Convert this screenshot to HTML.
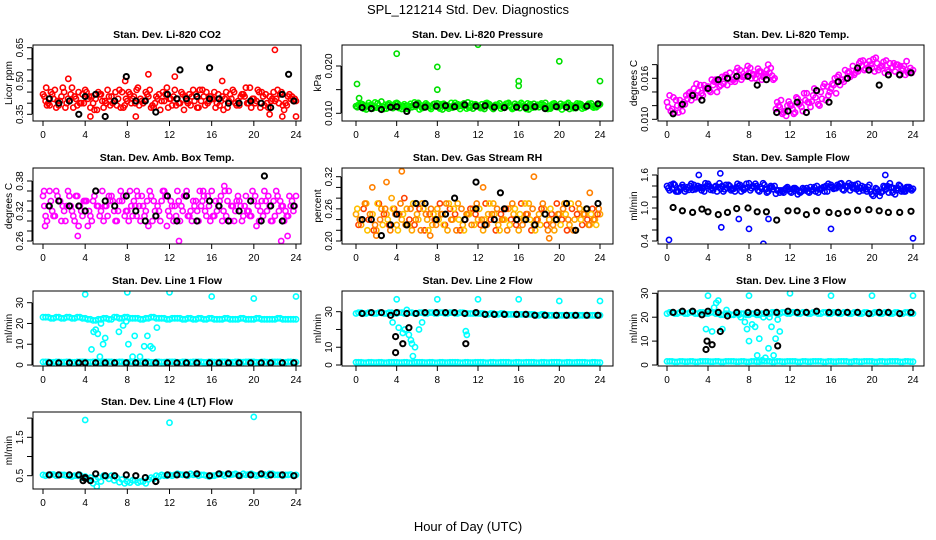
<!DOCTYPE html>
<html><head><meta charset="utf-8"><style>
html,body{margin:0;padding:0;background:#fff;}
svg{display:block;font-family:"Liberation Sans",sans-serif;}
</style></head><body>
<svg id="chart" width="936" height="540" viewBox="0 0 936 540" xmlns="http://www.w3.org/2000/svg">
<rect width="936" height="540" fill="#fff"/>
<text x="468" y="14" font-size="13" text-anchor="middle">SPL_121214  Std. Dev. Diagnostics</text>
<text x="468" y="531" font-size="13" text-anchor="middle">Hour of Day (UTC)</text>
</svg>
<script>
// ---- shared x categories ----
const halfHours = [0,0.5,1,1.5,2,2.5,3,3.5,4,4.5,5,5.5,6,6.5,7,7.5,8,8.5,9,9.5,10,10.5,11,11.5,12,12.5,13,13.5,14,14.5,15,15.5,16,16.5,17,17.5,18,18.5,19,19.5,20,20.5,21,21.5,22,22.5,23,23.5,24];
const quarterHours = [0.25,0.75,1.25,1.75,2.25,2.75,3.25,3.75,4.25,4.75,5.25,5.75,6.25,6.75,7.25,7.75,8.25,8.75,9.25,9.75,10.25,10.75,11.25,11.75,12.25,12.75,13.25,13.75,14.25,14.75,15.25,15.75,16.25,16.75,17.25,17.75,18.25,18.75,19.25,19.75,20.25,20.75,21.25,21.75,22.25,22.75,23.25,23.75];
const eighthA = [0.125,0.625,1.125,1.625,2.125,2.625,3.125,3.625,4.125,4.625,5.125,5.625,6.125,6.625,7.125,7.625,8.125,8.625,9.125,9.625,10.125,10.625,11.125,11.625,12.125,12.625,13.125,13.625,14.125,14.625,15.125,15.625,16.125,16.625,17.125,17.625,18.125,18.625,19.125,19.625,20.125,20.625,21.125,21.625,22.125,22.625,23.125,23.625];
const eighthB = [0.375,0.875,1.375,1.875,2.375,2.875,3.375,3.875,4.375,4.875,5.375,5.875,6.375,6.875,7.375,7.875,8.375,8.875,9.375,9.875,10.375,10.875,11.375,11.875,12.375,12.875,13.375,13.875,14.375,14.875,15.375,15.875,16.375,16.875,17.375,17.875,18.375,18.875,19.375,19.875,20.375,20.875,21.375,21.875,22.375,22.875,23.375,23.875];
const blackHours = [0.6,1.5,2.5,3.4,4.0,5.0,5.9,6.8,7.9,8.8,9.7,10.7,11.8,12.7,13.6,14.6,15.8,16.7,17.6,18.6,19.7,20.7,21.6,22.7,23.8];
const xTicks = [0,4,8,12,16,20,24];

// ---- P1 CO2 ----
const co2A = [0.44,0.40,0.42,0.39,0.45,0.41,0.43,0.40,0.46,0.38,0.42,0.44,0.40,0.43,0.39,0.45,0.41,0.42,0.47,0.40,0.43,0.38,0.44,0.41,0.42,0.46,0.40,0.43,0.39,0.44,0.41,0.45,0.42,0.40,0.43,0.38,0.46,0.41,0.44,0.40,0.42,0.45,0.39,0.43,0.41,0.44,0.40,0.42,0.41];
const co2B = [0.41,0.45,0.38,0.43,0.40,0.47,0.39,0.44,0.42,0.40,0.45,0.38,0.43,0.41,0.46,0.39,0.44,0.40,0.42,0.45,0.38,0.43,0.41,0.47,0.39,0.42,0.44,0.40,0.46,0.38,0.43,0.41,0.45,0.39,0.42,0.44,0.40,0.43,0.47,0.38,0.41,0.45,0.40,0.42,0.46,0.39,0.43,0.41];
const co2C = [0.43,0.39,0.46,0.41,0.38,0.44,0.42,0.40,0.45,0.43,0.37,0.41,0.46,0.40,0.42,0.38,0.45,0.43,0.39,0.41,0.46,0.40,0.37,0.44,0.42,0.39,0.45,0.41,0.43,0.38,0.46,0.40,0.42,0.44,0.37,0.41,0.45,0.39,0.43,0.47,0.40,0.38,0.44,0.41,0.42,0.45,0.39,0.43];
const co2D = [0.39,0.44,0.41,0.47,0.42,0.38,0.45,0.40,0.43,0.37,0.44,0.41,0.39,0.45,0.38,0.42,0.40,0.46,0.41,0.44,0.39,0.42,0.45,0.38,0.43,0.40,0.37,0.44,0.41,0.46,0.39,0.43,0.38,0.41,0.45,0.42,0.39,0.44,0.40,0.42,0.46,0.43,0.38,0.45,0.40,0.37,0.44,0.42];
const co2OutX = [0.3,4.5,8.8,10,12.5,22,22.7,24,21.5,2.4,17,7.8];
const co2OutY = [0.47,0.34,0.34,0.53,0.52,0.64,0.34,0.34,0.35,0.51,0.50,0.50];
const co2Black = [0.42,0.40,0.41,0.35,0.43,0.44,0.34,0.41,0.52,0.41,0.41,0.36,0.44,0.42,0.42,0.43,0.42,0.42,0.40,0.40,0.41,0.40,0.38,0.44,0.41];
const co2BOutX = [13,15.8,23.3];
const co2BOutY = [0.55,0.56,0.53];

// ---- P2 Pressure ----
const prA = [0.0115,0.0120,0.0108,0.0118,0.0112,0.0125,0.0110,0.0117,0.0122,0.0109,0.0116,0.0113,0.0120,0.0111,0.0118,0.0114,0.0121,0.0108,0.0117,0.0112,0.0119,0.0115,0.0123,0.0110,0.0116,0.0113,0.0120,0.0109,0.0117,0.0114,0.0122,0.0111,0.0118,0.0115,0.0108,0.0120,0.0113,0.0117,0.0110,0.0121,0.0114,0.0118,0.0109,0.0116,0.0120,0.0112,0.0117,0.0115,0.0119];
const prB = [0.0118,0.0110,0.0122,0.0113,0.0117,0.0109,0.0121,0.0114,0.0111,0.0119,0.0115,0.0123,0.0108,0.0116,0.0112,0.0120,0.0110,0.0118,0.0114,0.0122,0.0109,0.0117,0.0113,0.0119,0.0111,0.0121,0.0115,0.0118,0.0110,0.0120,0.0113,0.0116,0.0122,0.0109,0.0117,0.0114,0.0121,0.0111,0.0118,0.0115,0.0108,0.0119,0.0113,0.0121,0.0110,0.0117,0.0114,0.0116];
const prC = [0.0113,0.0119,0.0116,0.0110,0.0121,0.0114,0.0118,0.0111,0.0120,0.0115,0.0109,0.0117,0.0122,0.0112,0.0116,0.0119,0.0113,0.0120,0.0110,0.0117,0.0115,0.0121,0.0112,0.0118,0.0114,0.0109,0.0119,0.0116,0.0121,0.0112,0.0117,0.0120,0.0111,0.0115,0.0119,0.0113,0.0118,0.0122,0.0110,0.0116,0.0120,0.0113,0.0117,0.0111,0.0119,0.0115,0.0121,0.0113];
const prD = [0.0120,0.0112,0.0117,0.0123,0.0110,0.0118,0.0113,0.0121,0.0116,0.0110,0.0120,0.0114,0.0117,0.0121,0.0109,0.0115,0.0119,0.0112,0.0122,0.0114,0.0118,0.0110,0.0120,0.0115,0.0119,0.0122,0.0112,0.0117,0.0114,0.0120,0.0109,0.0116,0.0119,0.0121,0.0112,0.0118,0.0115,0.0109,0.0120,0.0113,0.0117,0.0122,0.0111,0.0118,0.0114,0.0120,0.0112,0.0117];
const prOutX = [0.1,4.0,8.0,8.0,12,16,16,20,24,0.3];
const prOutY = [0.0162,0.0226,0.0198,0.0150,0.0245,0.0168,0.0158,0.0210,0.0168,0.0132];
const prBlack = [0.0112,0.0110,0.0108,0.0113,0.0114,0.0104,0.0118,0.0113,0.0115,0.0116,0.0114,0.0118,0.0115,0.0116,0.0113,0.0112,0.0113,0.0112,0.0114,0.0110,0.0114,0.0113,0.0112,0.0115,0.0120];

// ---- P3 Li-820 Temp ----
const tpA = [0.0125,0.0115,0.0120,0.0112,0.0130,0.0138,0.0142,0.0135,0.0148,0.0150,0.0155,0.0152,0.0160,0.0158,0.0165,0.0162,0.0168,0.0165,0.0170,0.0163,0.0168,0.0160,0.0118,0.0112,0.0122,0.0110,0.0125,0.0128,0.0118,0.0132,0.0140,0.0128,0.0145,0.0138,0.0158,0.0160,0.0165,0.0172,0.0178,0.0180,0.0175,0.0182,0.0178,0.0172,0.0176,0.0180,0.0174,0.0168,0.0172];
const tpB = [0.0135,0.0110,0.0128,0.0122,0.0140,0.0132,0.0150,0.0145,0.0140,0.0158,0.0150,0.0165,0.0155,0.0170,0.0158,0.0172,0.0160,0.0166,0.0158,0.0172,0.0164,0.0125,0.0108,0.0120,0.0115,0.0130,0.0112,0.0125,0.0135,0.0122,0.0148,0.0135,0.0150,0.0165,0.0155,0.0170,0.0165,0.0182,0.0172,0.0185,0.0170,0.0176,0.0168,0.0182,0.0170,0.0178,0.0165,0.0175];
const tpC = [0.0118,0.0132,0.0110,0.0125,0.0138,0.0145,0.0132,0.0150,0.0142,0.0155,0.0148,0.0162,0.0168,0.0155,0.0172,0.0164,0.0175,0.0160,0.0170,0.0166,0.0175,0.0115,0.0128,0.0105,0.0120,0.0132,0.0118,0.0138,0.0126,0.0142,0.0130,0.0148,0.0152,0.0162,0.0158,0.0168,0.0178,0.0170,0.0186,0.0176,0.0188,0.0172,0.0184,0.0170,0.0182,0.0166,0.0178,0.0170];
const tpD = [0.0112,0.0128,0.0120,0.0135,0.0128,0.0152,0.0138,0.0146,0.0158,0.0140,0.0162,0.0150,0.0158,0.0175,0.0162,0.0178,0.0166,0.0174,0.0162,0.0180,0.0158,0.0120,0.0110,0.0126,0.0108,0.0122,0.0138,0.0124,0.0145,0.0120,0.0152,0.0140,0.0160,0.0150,0.0172,0.0162,0.0168,0.0185,0.0174,0.0180,0.0190,0.0178,0.0186,0.0175,0.0180,0.0172,0.0185,0.0168];
const tpBlack = [0.0108,0.0122,0.0135,0.0128,0.0145,0.0158,0.0160,0.0163,0.0163,0.0150,0.0158,0.0110,0.0112,0.0125,0.0110,0.0142,0.0125,0.0155,0.0160,0.0175,0.0172,0.0150,0.0165,0.0165,0.0168];

// ---- P4 Amb Box Temp ----
const amA = [0.35,0.33,0.31,0.34,0.32,0.35,0.30,0.33,0.34,0.31,0.36,0.32,0.33,0.35,0.30,0.34,0.32,0.31,0.35,0.33,0.29,0.34,0.32,0.36,0.31,0.33,0.30,0.35,0.32,0.34,0.33,0.31,0.36,0.32,0.30,0.34,0.33,0.35,0.31,0.32,0.34,0.30,0.36,0.33,0.31,0.34,0.32,0.33,0.35];
const amB = [0.31,0.34,0.36,0.30,0.33,0.32,0.35,0.31,0.29,0.34,0.33,0.30,0.35,0.32,0.34,0.31,0.36,0.33,0.30,0.32,0.35,0.31,0.34,0.29,0.33,0.36,0.32,0.31,0.34,0.30,0.35,0.33,0.31,0.34,0.36,0.30,0.32,0.33,0.35,0.31,0.29,0.34,0.32,0.30,0.35,0.33,0.31,0.32];
const amC = [0.33,0.36,0.31,0.34,0.30,0.33,0.35,0.32,0.34,0.30,0.33,0.36,0.31,0.34,0.32,0.35,0.30,0.34,0.33,0.31,0.36,0.32,0.30,0.35,0.34,0.31,0.33,0.36,0.30,0.32,0.34,0.35,0.31,0.33,0.32,0.36,0.30,0.34,0.33,0.31,0.35,0.32,0.34,0.30,0.36,0.33,0.31,0.34];
const amD = [0.30,0.32,0.35,0.33,0.36,0.31,0.29,0.34,0.32,0.35,0.31,0.33,0.34,0.30,0.36,0.32,0.33,0.31,0.35,0.34,0.30,0.33,0.36,0.32,0.30,0.34,0.35,0.31,0.33,0.36,0.32,0.30,0.34,0.35,0.31,0.33,0.34,0.30,0.32,0.36,0.33,0.31,0.35,0.34,0.32,0.30,0.35,0.33];
const amOutX = [0.1,0.2,3.3,12.9,17.2,22.6,23.2,15.2,8.9];
const amOutY = [0.36,0.29,0.27,0.26,0.37,0.26,0.27,0.36,0.36];
const amBlack = [0.33,0.34,0.33,0.33,0.32,0.36,0.34,0.33,0.35,0.32,0.30,0.31,0.35,0.30,0.35,0.30,0.34,0.33,0.30,0.32,0.34,0.30,0.33,0.30,0.33];
const amBOutX = [21];
const amBOutY = [0.39];

// ---- P5 Gas Stream RH ----
const rhA = [0.25,0.23,0.27,0.24,0.22,0.26,0.25,0.28,0.23,0.24,0.26,0.22,0.25,0.27,0.24,0.23,0.26,0.25,0.22,0.24,0.27,0.23,0.25,0.26,0.24,0.22,0.25,0.27,0.23,0.24,0.26,0.25,0.22,0.24,0.27,0.23,0.25,0.26,0.24,0.22,0.25,0.27,0.23,0.24,0.26,0.25,0.23,0.24,0.25];
const rhB = [0.23,0.26,0.24,0.22,0.27,0.25,0.23,0.26,0.25,0.28,0.24,0.23,0.26,0.22,0.25,0.24,0.27,0.23,0.26,0.25,0.22,0.24,0.26,0.25,0.23,0.27,0.24,0.22,0.25,0.26,0.24,0.23,0.27,0.25,0.22,0.24,0.26,0.23,0.25,0.27,0.24,0.22,0.26,0.25,0.23,0.24,0.26,0.25];
const rhC = [0.26,0.24,0.22,0.25,0.27,0.23,0.24,0.26,0.22,0.25,0.23,0.27,0.24,0.26,0.22,0.25,0.24,0.23,0.27,0.26,0.24,0.22,0.25,0.23,0.26,0.24,0.27,0.25,0.22,0.24,0.23,0.26,0.25,0.27,0.24,0.22,0.23,0.25,0.26,0.24,0.23,0.25,0.27,0.22,0.24,0.26,0.25,0.23];
const rhD = [0.24,0.27,0.25,0.23,0.24,0.26,0.22,0.25,0.27,0.23,0.26,0.24,0.22,0.25,0.26,0.23,0.25,0.27,0.24,0.22,0.26,0.25,0.23,0.27,0.24,0.23,0.25,0.26,0.24,0.22,0.27,0.24,0.23,0.25,0.26,0.24,0.27,0.22,0.23,0.25,0.26,0.24,0.22,0.27,0.25,0.23,0.24,0.26];
const rhOutX = [3,4.5,1.6,17.5,12.5,7.3,2,19,23];
const rhOutY = [0.31,0.33,0.30,0.32,0.30,0.21,0.21,0.205,0.29];
const rhBlack = [0.24,0.24,0.21,0.23,0.25,0.23,0.27,0.27,0.24,0.25,0.28,0.24,0.26,0.23,0.24,0.26,0.24,0.24,0.23,0.25,0.24,0.27,0.22,0.26,0.27];
const rhBOutX = [11.8,14.2];
const rhBOutY = [0.31,0.29];

// ---- P6 Sample Flow ----
const sfA = [1.40,1.35,1.30,1.42,1.38,1.33,1.40,1.36,1.44,1.32,1.38,1.30,1.42,1.35,1.40,1.33,1.45,1.38,1.30,1.42,1.36,1.40,1.28,1.34,1.30,1.36,1.28,1.32,1.38,1.30,1.34,1.40,1.42,1.36,1.45,1.38,1.42,1.34,1.40,1.30,1.25,1.34,1.30,1.40,1.28,1.36,1.32,1.38,1.35];
const sfB = [1.32,1.42,1.36,1.30,1.40,1.34,1.38,1.45,1.33,1.40,1.35,1.42,1.32,1.38,1.30,1.44,1.36,1.40,1.35,1.28,1.38,1.32,1.30,1.38,1.34,1.25,1.36,1.30,1.34,1.28,1.38,1.44,1.35,1.40,1.32,1.45,1.36,1.30,1.38,1.42,1.30,1.22,1.38,1.45,1.25,1.40,1.30,1.35];
const sfC = [1.36,1.44,1.30,1.38,1.33,1.42,1.36,1.30,1.40,1.38,1.45,1.34,1.40,1.30,1.42,1.36,1.32,1.44,1.38,1.34,1.40,1.26,1.32,1.36,1.28,1.34,1.30,1.36,1.32,1.40,1.36,1.30,1.38,1.42,1.34,1.40,1.36,1.44,1.32,1.38,1.22,1.30,1.40,1.28,1.36,1.42,1.30,1.38];
const sfD = [1.42,1.30,1.38,1.34,1.44,1.36,1.32,1.40,1.36,1.30,1.40,1.36,1.34,1.44,1.36,1.38,1.40,1.32,1.45,1.30,1.34,1.32,1.28,1.34,1.36,1.30,1.34,1.28,1.38,1.34,1.30,1.38,1.36,1.44,1.40,1.32,1.42,1.36,1.34,1.30,1.36,1.28,1.34,1.38,1.32,1.30,1.38,1.32];
const sfOutX = [0.2,5.3,5.2,9.4,8,16,24,3.1,21.3,7,9.9];
const sfOutY = [0.42,0.65,1.63,0.35,0.62,0.62,0.45,1.60,1.60,0.80,0.80];
const sfBlack = [1.01,0.95,0.92,0.98,0.93,0.88,0.92,0.99,1.00,0.93,0.93,0.78,0.95,0.95,0.88,0.95,0.92,0.90,0.93,0.96,0.97,0.95,0.92,0.92,0.94];

// ---- P7 Line 1 Flow ----
const l1Top = [23,23,22.5,23,22.5,23,22.5,23,22.5,22,21.5,22,22.5,22,23,22.5,23,22.5,22.5,22,22.5,23,22.5,22.5,22,22.5,22.5,22,22.5,22,22.5,22,22.5,22,22,22.5,22,22,22.5,22,22,22.5,22,22,22,22.5,22,22,22];
const l1Bot = [1.5,1.5,1.3,1.5,1.4,1.5,1.3,1.5,1.5,1.4,1.5,1.3,1.5,1.5,1.4,1.5,1.3,1.5,1.4,1.5,1.5,1.3,1.5,1.4,1.5,1.5,1.3,1.5,1.4,1.5,1.5,1.3,1.5,1.4,1.5,1.5,1.3,1.5,1.4,1.5,1.5,1.3,1.5,1.4,1.5,1.5,1.3,1.5,1.4];
const l1OutX = [4,8,12,16,20,24,4.6,4.8,5,5.2,5.4,5.5,5.7,5.9,7.2,7.6,7.9,8.1,8.5,8.7,9.2,9.6,9.9,10.2,10.4,10.8];
const l1OutY = [34,35,35,33,32,33,7.5,16,17,15,4,20,10,13,16,19,21,10,4,14,4,9,14,9,8,18];
const l1Black = [1,1,1,1,1,1,1,1,1,1,1,1,1,1,1,1,1,1,1,1,1,1,1,1,1];

// ---- P8 Line 2 Flow ----
const l2Top = [29,29.5,29,29.5,29,29.5,29,29.5,29,29.5,29,29.5,29,29.5,29,29.5,29,29.5,29,29.5,29,29.5,29,29,29,29,28.5,29,28.5,29,28.5,28.5,28.5,28.5,28.5,28.5,28,28.5,28,28,28,28,28,28,28,28,28,28,28];
const l2Bot = [1.5,1.5,1.3,1.5,1.4,1.5,1.3,1.5,1.5,1.4,1.5,1.3,1.5,1.5,1.4,1.5,1.3,1.5,1.4,1.5,1.5,1.3,1.5,1.4,1.5,1.5,1.3,1.5,1.4,1.5,1.5,1.3,1.5,1.4,1.5,1.5,1.3,1.5,1.4,1.5,1.5,1.3,1.5,1.4,1.5,1.5,1.3,1.5,1.4];
const l2OutX = [4,8,12,16,20,24,3.6,4.2,4.6,4.8,5.0,5.2,5.4,5.5,5.6,5.8,6.2,6.5,10.8,10.9];
const l2OutY = [37,37,37,37,36,36,24,21,18,20,31,17,14,12,5,10,20,24,19,17];
const l2Black = [29,29.5,29.5,28,29.5,29,29,29.5,29.5,29.5,29.5,29,29.5,28.5,28.5,28.5,28.5,28.5,28,28,28,28,28,28,28];
const l2BOutX = [3.9,3.9,4.6,5.2,10.8];
const l2BOutY = [16,7,12,21,12];

// ---- P9 Line 3 Flow ----
const l3Top = [21.5,22,21.5,22,21.5,22,21.5,22,21.5,22,21.5,21,21.5,21,21.5,21.5,21,21.5,21,21.5,21.5,22,21.5,22,21.5,22,21.5,22,21.5,22,21.5,22,21.5,22,21.5,22,21.5,22,21.5,22,21.5,22,21.5,22,21.5,22,21.5,22,21.5];
const l3Bot = [1.5,1.5,1.3,1.5,1.4,1.5,1.3,1.5,1.5,1.4,1.5,1.3,1.5,1.5,1.4,1.5,1.3,1.5,1.4,1.5,1.5,1.3,1.5,1.4,1.5,1.5,1.3,1.5,1.4,1.5,1.5,1.3,1.5,1.4,1.5,1.5,1.3,1.5,1.4,1.5,1.5,1.3,1.5,1.4,1.5,1.5,1.3,1.5,1.4];
const l3OutX = [4,8,12,16,20,24,3.8,4.4,4.6,4.8,5,5.4,5.8,7.2,7.6,7.8,8,8.3,8.6,8.8,9,9.4,9.6,9.9,10,10.2,10.4,10.6,10.8,11,7,9.3];
const l3OutY = [29,29,30,29,29,29,15,14,24,26,27,15,23,20,18,15,10,17,16,4,11,20,3,7,20,16,4,11,19,14,21,2];
const l3Black = [22,22.5,22.5,21,22.5,22,20.5,22,22,22,22,22,22.5,22,22,22.5,22,22,22,22,21.5,22,22,21.5,22];
const l3BOutX = [3.8,3.9,4.4,5.2,10.8];
const l3BOutY = [6.5,10,8.5,14,8];

// ---- P10 Line 4 (LT) Flow ----
const l4A = [0.52,0.52,0.53,0.52,0.52,0.5,0.5,0.52,0.48,0.45,0.4,0.35,0.48,0.5,0.45,0.4,0.35,0.38,0.32,0.35,0.4,0.42,0.48,0.5,0.52,0.52,0.53,0.52,0.55,0.53,0.52,0.5,0.5,0.52,0.53,0.55,0.53,0.52,0.55,0.53,0.52,0.52,0.53,0.55,0.52,0.52,0.52,0.53,0.52];
const l4B = [0.5,0.53,0.5,0.52,0.5,0.48,0.5,0.45,0.42,0.3,0.45,0.5,0.42,0.38,0.33,0.3,0.32,0.38,0.35,0.3,0.45,0.5,0.52,0.5,0.5,0.55,0.52,0.5,0.52,0.5,0.52,0.48,0.5,0.55,0.5,0.52,0.55,0.5,0.52,0.55,0.5,0.52,0.5,0.55,0.52,0.5,0.52,0.5];
const l4OutX = [4,12,20,5.1];
const l4OutY = [1.95,1.88,2.03,0.22];
const l4Black = [0.52,0.52,0.52,0.52,0.45,0.55,0.5,0.5,0.52,0.5,0.45,0.35,0.52,0.52,0.52,0.55,0.5,0.55,0.55,0.5,0.52,0.55,0.52,0.52,0.5];
const l4BOutX = [3.8,4.5,10.7,4];
const l4BOutY = [0.37,0.37,0.35,0.43];

const NS = "http://www.w3.org/2000/svg";
const svg = document.getElementById('chart');
function mk(tag, attrs, parent){ const e=document.createElementNS(NS,tag); for(const k in attrs) e.setAttribute(k,attrs[k]); (parent||svg).appendChild(e); return e; }

const cols = [{l:33,r:301,x0:43,x24:296},{l:342,r:613,x0:356,x24:600},{l:658,r:924,x0:667,x24:913}];
const rows = [{t:45,b:121},{t:168,b:244},{t:291,b:366},{t:412,b:489}];

function panel(cfg){
  const c=cols[cfg.col], r=rows[cfg.row];
  const g=mk('g',{});
  
  
  const xs = h => c.x0 + (c.x24-c.x0)*h/24;
  const ys = v => cfg.yp1 + (v-cfg.yv1)*(cfg.yp2-cfg.yp1)/(cfg.yv2-cfg.yv1);
  const clip='clip'+cfg.name;
  const cp=mk('clipPath',{id:clip},g); mk('rect',{x:c.l,y:r.t,width:c.r-c.l,height:r.b-r.t},cp);
  const pts=mk('g',{'clip-path':'url(#'+clip+')'},g);
  cfg.series.forEach(s=>{
    const sg=mk('g',{},pts);
    
    
    const w = s.color==='#000' ? 2 : 1.6;
    s.y.forEach((v,i)=>{
      const cc=mk('circle',{cx:xs(s.x[i]).toFixed(1),cy:ys(v).toFixed(1),r:2.6,fill:'none',stroke:s.color,'stroke-width':w},sg);
      
      
    });
  });
  const box=mk('rect',{x:c.l,y:r.t,width:c.r-c.l,height:r.b-r.t,fill:'none',stroke:'#000','stroke-width':1},g);
  
  
  xTicks.forEach(h=>{
    const x=xs(h);
    mk('line',{x1:x,x2:x,y1:r.b,y2:r.b+5,stroke:'#000'},g);
    const t=mk('text',{x:x,y:r.b+17,'font-size':10,'text-anchor':'middle'},g); t.textContent=h;
    
    
  });
  mk('line',{x1:xs(0),x2:xs(24),y1:r.b,y2:r.b,stroke:'#000'},g);
  const ax=c.l-1;
  cfg.yTicks.forEach(v=>{ const y=ys(v); mk('line',{x1:ax-5,x2:ax,y1:y,y2:y,stroke:'#000'},g); });
  mk('line',{x1:ax,x2:ax,y1:ys(cfg.yTicks[0]),y2:ys(cfg.yTicks[cfg.yTicks.length-1]),stroke:'#000'},g);
  cfg.yLabels.forEach(v=>{
    const y=ys(Number(v));
    const t=mk('text',{x:0,y:0,'font-size':10,'text-anchor':'middle',transform:`translate(${ax-9},${y}) rotate(-90)`},g);
    t.textContent=v;
    
    
  });
  const yt=mk('text',{x:0,y:0,'font-size':10,'text-anchor':'middle',transform:`translate(${c.l-21},${(r.t+r.b)/2}) rotate(-90)`},g);
  yt.textContent=cfg.ylab;
  
  
  const tt=mk('text',{x:(c.l+c.r)/2,y:r.t-7,'font-size':10.5,'font-weight':'bold','text-anchor':'middle'},g);
  tt.textContent=cfg.title;
  
  
}

panel({name:'co2-panel',col:0,row:0,title:'Stan. Dev. Li-820 CO2',ylab:'Licor ppm',yv1:0.35,yp1:114.3,yv2:0.65,yp2:47.7,
  yTicks:[0.35,0.40,0.45,0.50,0.55,0.60,0.65],yLabels:['0.35','0.50','0.65'],
  series:[{name:'co2-red-a',x:halfHours,y:co2A,color:'#ff0000'},{name:'co2-red-b',x:quarterHours,y:co2B,color:'#ff0000'},
  {name:'co2-red-c',x:eighthA,y:co2C,color:'#ff0000'},{name:'co2-red-d',x:eighthB,y:co2D,color:'#ff0000'},{name:'co2-red-out',x:co2OutX,y:co2OutY,color:'#ff0000'},
  {name:'co2-black',x:blackHours,y:co2Black,color:'#000'},{name:'co2-black-out',x:co2BOutX,y:co2BOutY,color:'#000'}]});
panel({name:'pressure-panel',col:1,row:0,title:'Stan. Dev. Li-820 Pressure',ylab:'kPa',yv1:0.010,yp1:113.3,yv2:0.020,yp2:66,
  yTicks:[0.010,0.015,0.020],yLabels:['0.010','0.020'],
  series:[{name:'pressure-green-a',x:halfHours,y:prA,color:'#00e000'},{name:'pressure-green-b',x:quarterHours,y:prB,color:'#00ff00'},
  {name:'pressure-green-c',x:eighthA,y:prC,color:'#00e000'},{name:'pressure-green-d',x:eighthB,y:prD,color:'#00ff00'},{name:'pressure-green-out',x:prOutX,y:prOutY,color:'#00e000'},
  {name:'pressure-black',x:blackHours,y:prBlack,color:'#000'}]});
panel({name:'licor-temp-panel',col:2,row:0,title:'Stan. Dev. Li-820 Temp.',ylab:'degrees C',yv1:0.010,yp1:119.3,yv2:0.016,yp2:78.3,
  yTicks:[0.010,0.012,0.014,0.016,0.018],yLabels:['0.010','0.016'],
  series:[{name:'temp-magenta-a',x:halfHours,y:tpA,color:'#ff00ff'},{name:'temp-magenta-b',x:quarterHours,y:tpB,color:'#ff00ff'},
  {name:'temp-magenta-c',x:eighthA,y:tpC,color:'#ff00ff'},{name:'temp-magenta-d',x:eighthB,y:tpD,color:'#ff00ff'},
  {name:'temp-black',x:blackHours,y:tpBlack,color:'#000'}]});
panel({name:'amb-temp-panel',col:0,row:1,title:'Stan. Dev. Amb. Box Temp.',ylab:'degrees C',yv1:0.26,yp1:241,yv2:0.38,yp2:181,
  yTicks:[0.26,0.28,0.30,0.32,0.34,0.36,0.38],yLabels:['0.26','0.32','0.38'],
  series:[{name:'amb-magenta-a',x:halfHours,y:amA,color:'#ff00ff'},{name:'amb-magenta-b',x:quarterHours,y:amB,color:'#ff00ff'},
  {name:'amb-magenta-c',x:eighthA,y:amC,color:'#ff00ff'},{name:'amb-magenta-d',x:eighthB,y:amD,color:'#ff00ff'},{name:'amb-magenta-out',x:amOutX,y:amOutY,color:'#ff00ff'},
  {name:'amb-black',x:blackHours,y:amBlack,color:'#000'},{name:'amb-black-out',x:amBOutX,y:amBOutY,color:'#000'}]});
panel({name:'rh-panel',col:1,row:1,title:'Stan. Dev. Gas Stream RH',ylab:'percent',yv1:0.20,yp1:241,yv2:0.32,yp2:176.7,
  yTicks:[0.20,0.22,0.24,0.26,0.28,0.30,0.32],yLabels:['0.20','0.26','0.32'],
  series:[{name:'rh-orange-a',x:halfHours,y:rhA,color:'#ffa500'},{name:'rh-red-b',x:quarterHours,y:rhB,color:'#ff4000'},
  {name:'rh-yellow-c',x:eighthA,y:rhC,color:'#ffc000'},{name:'rh-orange-d',x:eighthB,y:rhD,color:'#ff8000'},{name:'rh-orange-out',x:rhOutX,y:rhOutY,color:'#ff8000'},
  {name:'rh-black',x:blackHours,y:rhBlack,color:'#000'},{name:'rh-black-out',x:rhBOutX,y:rhBOutY,color:'#000'}]});
panel({name:'sample-flow-panel',col:2,row:1,title:'Stan. Dev. Sample Flow',ylab:'ml/min',yv1:0.4,yp1:241,yv2:1.6,yp2:175,
  yTicks:[0.4,0.6,0.8,1.0,1.2,1.4,1.6],yLabels:['0.4','1.0','1.6'],
  series:[{name:'sample-blue-a',x:halfHours,y:sfA,color:'#0000ff'},{name:'sample-blue-b',x:quarterHours,y:sfB,color:'#0000ff'},
  {name:'sample-blue-c',x:eighthA,y:sfC,color:'#0000ff'},{name:'sample-blue-d',x:eighthB,y:sfD,color:'#0000ff'},{name:'sample-blue-out',x:sfOutX,y:sfOutY,color:'#0000ff'},
  {name:'sample-black',x:blackHours,y:sfBlack,color:'#000'}]});
panel({name:'line1-panel',col:0,row:2,title:'Stan. Dev. Line 1 Flow',ylab:'ml/min',yv1:0,yp1:365,yv2:30,yp2:302.7,
  yTicks:[0,10,20,30],yLabels:['0','10','20','30'],
  series:[{name:'line1-cyan-top',x:halfHours,y:l1Top,color:'#00ffff'},{name:'line1-cyan-top-b',x:quarterHours,y:l1Top.slice(1),color:'#00ffff'},{name:'line1-cyan-bottom',x:halfHours,y:l1Bot,color:'#00ffff'},
  {name:'line1-cyan-bottom-b',x:quarterHours,y:l1Bot.slice(1),color:'#00ffff'},{name:'line1-cyan-out',x:l1OutX,y:l1OutY,color:'#00ffff'},
  {name:'line1-black',x:blackHours,y:l1Black,color:'#000'}]});
panel({name:'line2-panel',col:1,row:2,title:'Stan. Dev. Line 2 Flow',ylab:'ml/min',yv1:0,yp1:365,yv2:30,yp2:311.7,
  yTicks:[0,10,20,30],yLabels:['0','10','30'],
  series:[{name:'line2-cyan-top',x:halfHours,y:l2Top,color:'#00ffff'},{name:'line2-cyan-top-b',x:quarterHours,y:l2Top.slice(1),color:'#00ffff'},{name:'line2-cyan-bottom',x:halfHours,y:l2Bot,color:'#00ffff'},
  {name:'line2-cyan-bottom-b',x:quarterHours,y:l2Bot.slice(1),color:'#00ffff'},{name:'line2-cyan-out',x:l2OutX,y:l2OutY,color:'#00ffff'},
  {name:'line2-black',x:blackHours,y:l2Black,color:'#000'},{name:'line2-black-out',x:l2BOutX,y:l2BOutY,color:'#000'}]});
panel({name:'line3-panel',col:2,row:2,title:'Stan. Dev. Line 3 Flow',ylab:'ml/min',yv1:0,yp1:365,yv2:30,yp2:293.3,
  yTicks:[0,10,20,30],yLabels:['0','10','20','30'],
  series:[{name:'line3-cyan-top',x:halfHours,y:l3Top,color:'#00ffff'},{name:'line3-cyan-top-b',x:quarterHours,y:l3Top.slice(1),color:'#00ffff'},{name:'line3-cyan-bottom',x:halfHours,y:l3Bot,color:'#00ffff'},
  {name:'line3-cyan-bottom-b',x:quarterHours,y:l3Bot.slice(1),color:'#00ffff'},{name:'line3-cyan-out',x:l3OutX,y:l3OutY,color:'#00ffff'},
  {name:'line3-black',x:blackHours,y:l3Black,color:'#000'},{name:'line3-black-out',x:l3BOutX,y:l3BOutY,color:'#000'}]});
panel({name:'line4-panel',col:0,row:3,title:'Stan. Dev. Line 4 (LT) Flow',ylab:'ml/min',yv1:0.5,yp1:475.7,yv2:1.5,yp2:437.3,
  yTicks:[0.5,1.0,1.5,2.0],yLabels:['0.5','1.5'],
  series:[{name:'line4-cyan-a',x:halfHours,y:l4A,color:'#00ffff'},{name:'line4-cyan-b',x:quarterHours,y:l4B,color:'#00ffff'},{name:'line4-cyan-out',x:l4OutX,y:l4OutY,color:'#00ffff'},
  {name:'line4-black',x:blackHours,y:l4Black,color:'#000'},{name:'line4-black-out',x:l4BOutX,y:l4BOutY,color:'#000'}]});
</script>
</body></html>
